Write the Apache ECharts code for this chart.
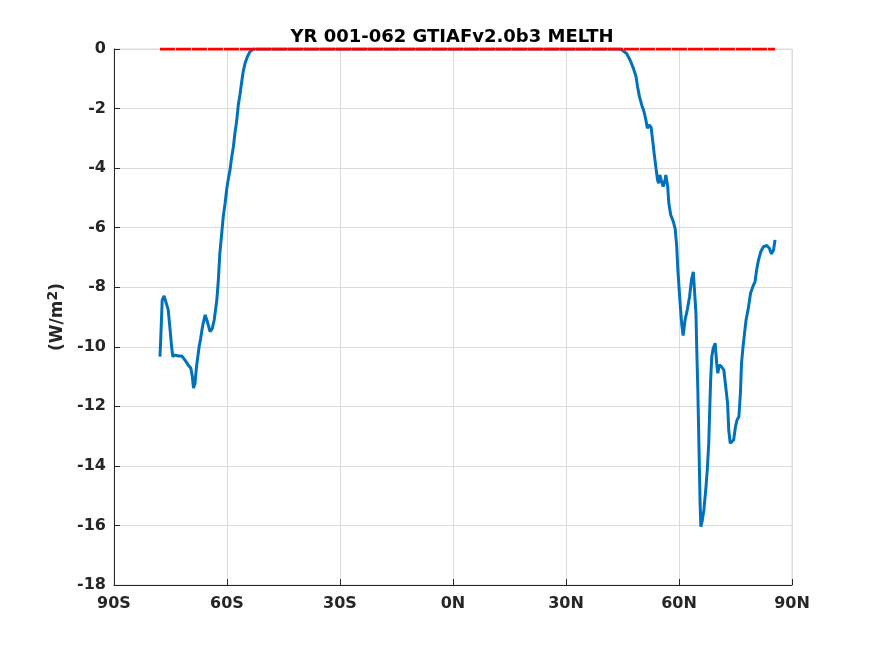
<!DOCTYPE html>
<html>
<head>
    <meta charset="utf-8">
    <title>YR 001-062 GTIAFv2.0b3 MELTH</title>
    <script src="https://cdn.jsdelivr.net/npm/echarts@6/dist/echarts.min.js"></script>
    <style>
        html, body { margin: 0; padding: 0; background: #fff; }
    </style>
</head>
<body>
    <div id="chart" style="width: 875px;height:656px;"></div>

    <script>
        // latitude (deg, negative = south) and zonal mean MELTH (W/m^2)
        const lat = [
            -77.8, -77.6, -77.2, -76.7, -76.2, -75.6, -75.1, -74.7, -74.4, -73.8,
            -72.9, -72.0, -71.2, -70.3, -69.6, -69.2, -68.9, -68.5, -68.1, -67.4,
            -67.0, -66.5, -65.8, -65.2, -64.5, -63.9, -63.4, -62.7, -62.3, -61.9,
            -61.4, -61.0, -60.5, -60.1, -59.7, -59.2, -58.8, -58.3, -57.9, -57.4,
            -57.0, -56.5, -56.1, -55.7, -55.2, -54.6, -53.9, -53.0,
            44.5, 46.1, 47.0, 47.9, 48.6, 49.0, 49.5, 50.1, 50.7, 51.2,
            51.6, 52.1, 52.6, 53.0, 53.4, 53.9, 54.3, 54.6, 54.9, 55.4,
            55.8, 56.3, 56.5, 57.0, 57.3, 57.8, 58.5, 59.0, 59.4, 59.7,
            60.0, 60.3, 60.7, 61.1, 61.6, 62.2, 62.8, 63.3, 63.8, 64.2,
            64.5, 64.7, 65.0, 65.3, 65.6, 65.8, 66.2, 66.6, 67.1, 67.5,
            67.9, 68.1, 68.4, 68.7, 69.1, 69.6, 70.0, 70.3, 70.7, 71.3,
            71.9, 72.4, 72.9, 73.2, 73.6, 74.0, 74.5, 75.0, 75.4, 75.9,
            76.3, 76.6, 77.0, 77.3, 77.8, 78.4, 79.0, 79.6, 80.2, 80.6,
            81.1, 81.7, 82.4, 83.3, 84.0, 84.5, 85.1, 85.5
        ];
        const melth = [
            -10.33, -9.77, -8.43, -8.29, -8.32, -8.76, -9.44, -10.0, -10.33, -10.28,
            -10.31, -10.31, -10.44, -10.61, -10.72, -11.0, -11.39, -11.23, -10.67, -10.0,
            -9.72, -9.32, -8.93, -9.16, -9.49, -9.38, -9.1, -8.43, -7.76, -6.86,
            -6.19, -5.63, -5.18, -4.73, -4.40, -4.06, -3.67, -3.28, -2.83, -2.38,
            -1.88, -1.49, -1.10, -0.76, -0.48, -0.26, -0.09, 0,
            0, -0.15, -0.37, -0.65, -0.93, -1.27, -1.60, -1.88, -2.10, -2.38,
            -2.66, -2.55, -2.63, -3.06, -3.50, -4.01, -4.40, -4.51, -4.23, -4.46,
            -4.62, -4.40, -4.23, -4.62, -5.18, -5.57, -5.80, -6.05, -6.64, -7.42,
            -7.98, -8.54, -9.21, -9.62, -9.10, -8.76, -8.32, -7.76, -7.48, -7.42,
            -8.88, -10.0, -11.45, -13.35, -15.26, -16.04, -15.82, -15.48, -14.81, -14.14,
            -13.24, -12.35, -11.12, -10.33, -10.05, -9.88, -10.55, -10.89, -10.61, -10.67,
            -10.78, -11.34, -11.90, -12.79, -13.24, -13.26, -13.13, -12.68, -12.46, -12.35,
            -11.56, -10.55, -10.0, -9.66, -9.1, -8.71, -8.20, -7.98, -7.81, -7.42,
            -7.09, -6.81, -6.64, -6.60, -6.69, -6.88, -6.75, -6.41
        ];
        // zero reference line (red dashed)
        const zeroLat = [-77.8, 85.5];
        const zeroVal = [0, 0];

        const xTicks = { '-90': '90S', '-60': '60S', '-30': '30S', '0': '0N', '30': '30N', '60': '60N', '90': '90N' };

        const chartDom = document.getElementById('chart');
        const myChart = echarts.init(chartDom);

        const fontFam = 'DejaVu Sans';

        const option = {
            animation: false,
            backgroundColor: '#fff',
            title: {
                text: 'YR 001-062 GTIAFv2.0b3 MELTH',
                left: 447,
                top: 23,
                textAlign: 'center',
                textStyle: { fontFamily: fontFam, fontWeight: 'bold', fontSize: 18, color: '#000' }
            },
            grid: {
                left: 114, right: 83, top: 49, bottom: 71,
                show: true, borderColor: '#dcdcdc', borderWidth: 1
            },
            xAxis: {
                type: 'value',
                min: -90, max: 90, interval: 30,
                axisLine: { show: true, onZero: false, lineStyle: { color: '#262626', width: 1 } },
                axisTick: { show: true, inside: true, length: 6, lineStyle: { color: '#262626' } },
                axisLabel: {
                    margin: 11,
                    fontFamily: fontFam, fontWeight: 'bold', fontSize: 16, color: '#262626',
                    formatter: function (v) { return xTicks[String(v)]; }
                },
                splitLine: { show: true, lineStyle: { color: '#dcdcdc', width: 1 } }
            },
            yAxis: {
                type: 'value',
                min: -18, max: 0, interval: 2,
                name: '(W/m{s|2})',
                nameLocation: 'middle',
                nameGap: 44,
                nameRotate: 90,
                nameTextStyle: {
                    fontFamily: fontFam, fontWeight: 'bold', fontSize: 17, color: '#262626',
                    rich: {
                        s: { fontFamily: fontFam, fontWeight: 'bold', fontSize: 14, color: '#262626', padding: [0, 0, 9, 0] }
                    }
                },
                axisLine: { show: true, onZero: false, lineStyle: { color: '#262626', width: 1 } },
                axisTick: { show: true, inside: true, length: 6, lineStyle: { color: '#262626' } },
                axisLabel: {
                    margin: 8,
                    fontFamily: fontFam, fontWeight: 'bold', fontSize: 16, color: '#262626'
                },
                splitLine: { show: true, lineStyle: { color: '#dcdcdc', width: 1 } }
            },
            series: [
                {
                    name: 'MELTH',
                    type: 'line',
                    showSymbol: false,
                    z: 2,
                    lineStyle: { color: '#0072BD', width: 3 },
                    data: lat.map((v, i) => [v, melth[i]])
                },
                {
                    name: 'zero',
                    type: 'line',
                    showSymbol: false,
                    z: 3,
                    lineStyle: { color: '#ff0000', width: 3, type: [15, 1] },
                    data: zeroLat.map((v, i) => [v, zeroVal[i]])
                }
            ]
        };

        myChart.setOption(option);
    </script>
</body>
</html>
